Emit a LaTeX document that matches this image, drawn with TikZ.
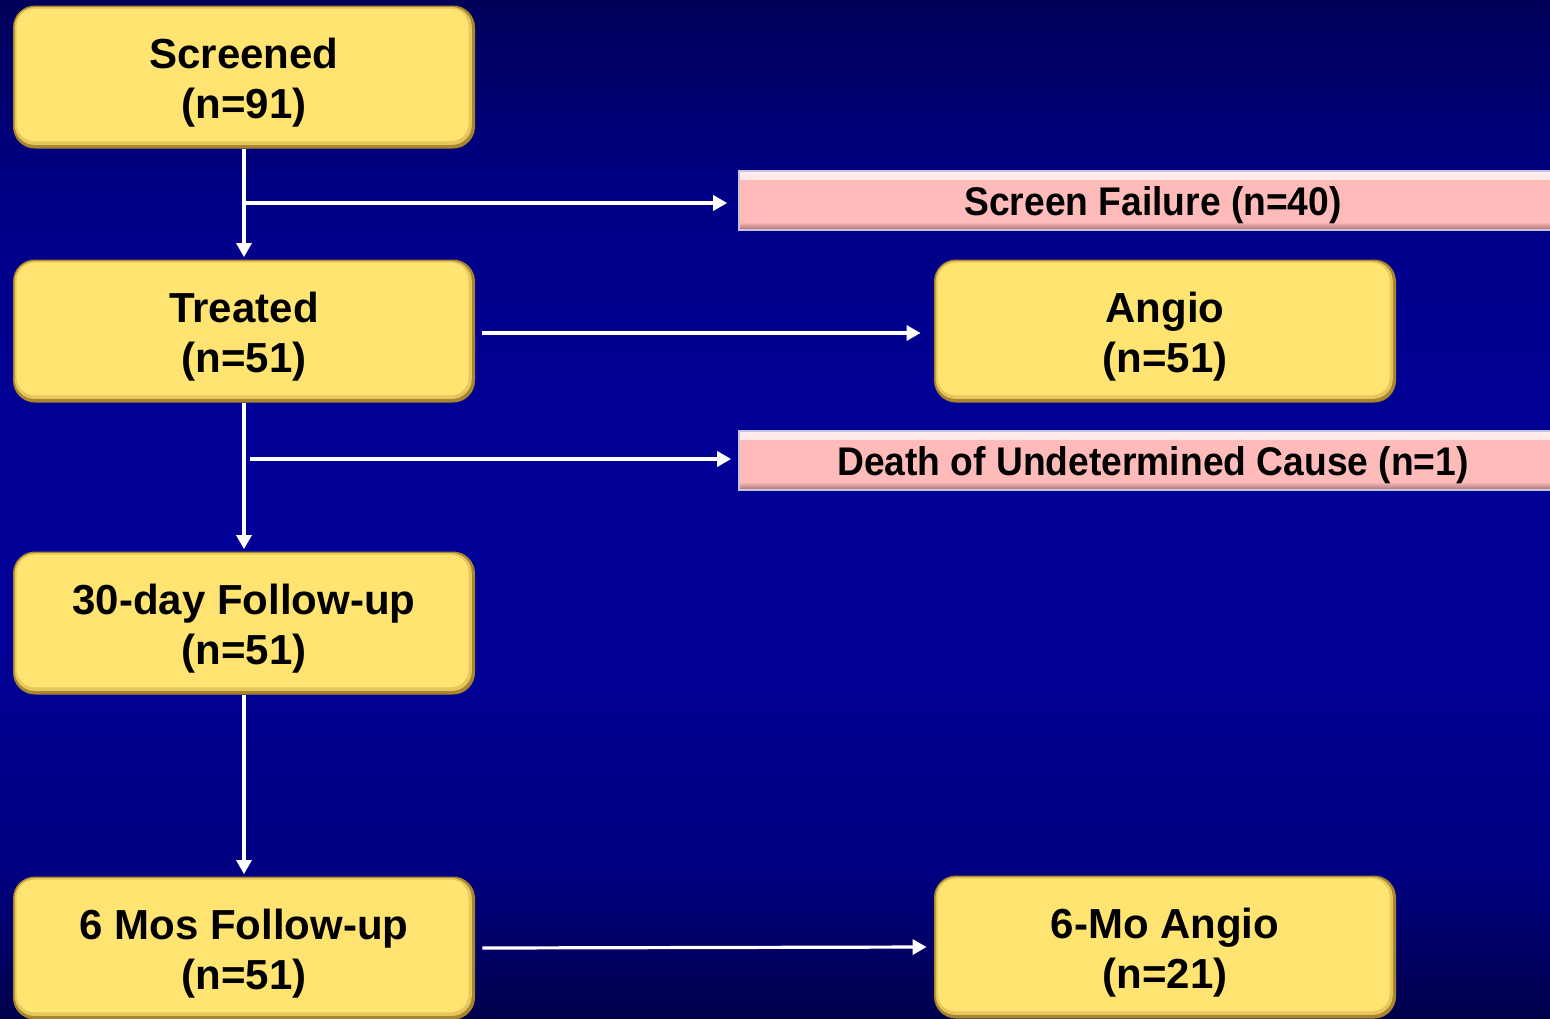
\documentclass[tikz,border=0pt]{standalone}
\usepackage{fontspec}
\setmainfont{Liberation Sans}
\newfontfamily\barfont[FakeStretch=0.93]{Liberation Sans}
\usetikzlibrary{arrows.meta}

\definecolor{bgtop}{HTML}{00005A}
\definecolor{bgupper}{HTML}{000088}
\definecolor{bgmid}{HTML}{000096}
\definecolor{bglower}{HTML}{000080}
\definecolor{bgbot}{HTML}{00004C}
\definecolor{boxyellow}{HTML}{FFE472}
\definecolor{boxmid}{HTML}{E6C75C}
\definecolor{boxedge}{HTML}{A8852E}
\definecolor{barpink}{HTML}{FFBABA}
\definecolor{bardark}{HTML}{A87070}
\definecolor{barline}{HTML}{C4C4DC}

% slide background: dark at top and bottom, brighter blue in the middle
\pgfdeclareverticalshading{slidebg}{100bp}{
  color(0bp)=(bgbot); color(25bp)=(bgbot); color(32bp)=(bglower);
  color(43bp)=(bgmid); color(53bp)=(bgmid); color(65bp)=(bgupper);
  color(75bp)=(bgtop); color(100bp)=(bgtop)}

\newcommand\boxlines[2]{\rule{0pt}{21pt}#1\\#2}

\tikzset{
  flowbox/.style={
    rounded corners=11pt, minimum width=231pt, minimum height=71.5pt,
    inner sep=0pt, align=center, fill=boxedge,
    font=\fontsize{21}{25}\selectfont\bfseries,
    path picture={
      \fill[boxmid, rounded corners=10pt]
        ([shift={(0.8pt,-0.8pt)}]path picture bounding box.north west) rectangle
        ([shift={(-1.6pt,1.8pt)}]path picture bounding box.south east);
      \fill[boxyellow, rounded corners=9pt]
        ([shift={(1.8pt,-1.6pt)}]path picture bounding box.north west) rectangle
        ([shift={(-3.2pt,3.6pt)}]path picture bounding box.south east);
    }},
  barbox/.style={
    minimum width=414pt, minimum height=29.5pt, inner sep=0pt,
    fill=barpink, draw=barline, line width=0.8pt, text depth=0pt,
    font=\barfont\bfseries\fontsize{20}{24}\selectfont,
    path picture={
      \shade[top color=white!75!barpink, bottom color=barpink]
        (path picture bounding box.north west) rectangle
        ([yshift=-4pt]path picture bounding box.north east);
      \shade[top color=barpink, bottom color=bardark]
        ([yshift=4pt]path picture bounding box.south west) rectangle
        (path picture bounding box.south east);
    }},
  flow/.style={draw=white, line width=1.6pt,
    -{Triangle[length=7pt,width=7.5pt]}}
}

\begin{document}
\begin{tikzpicture}[x=0.5pt,y=-0.5pt]
  % background
  \shade[shading=slidebg] (0,0) rectangle (1550,1018);
  \useasboundingbox (0,0) rectangle (1550,1018);
  \clip (0,0) rectangle (1550,1018);

  % main column
  \node[flowbox] (screened) at (244,77)  {\boxlines{Screened}{(n=91)}};
  \node[flowbox] (treated)  at (244,331) {\boxlines{Treated}{(n=51)}};
  \node[flowbox] (fu30)     at (244,623) {\boxlines{30-day Follow-up}{(n=51)}};
  \node[flowbox] (fu6)      at (244,948) {\boxlines{6 Mos Follow-up}{(n=51)}};

  % right column
  \node[flowbox] (angio)  at (1165,331) {\boxlines{Angio}{(n=51)}};
  \node[flowbox] (angio6) at (1165,947) {\boxlines{6-Mo Angio}{(n=21)}};

  % exclusion bars
  \node[barbox] (fail)  at (1153,200.5) {Screen Failure (n=40)};
  \node[barbox] (death) at (1153,460.5) {Death of Undetermined Cause (n=1)};

  % connectors
  \draw[flow] (screened.south) -- ([yshift=1pt]treated.north);
  \draw[flow] (treated.south) -- ([yshift=1pt]fu30.north);
  \draw[flow] (fu30.south) -- ([yshift=1pt]fu6.north);

  \coordinate (b1) at (244,203);
  \draw[flow] (b1) -- ([xshift=-5.5pt]fail.west |- b1);
  \coordinate (b2) at (250,459);
  \draw[flow] (b2) -- ([xshift=-3.5pt]death.west |- b2);

  \draw[flow] ([xshift=3.5pt]treated.east |- 0,333) -- ([xshift=-6.5pt]angio.west |- 0,333);
  \draw[flow] ([xshift=3.5pt]fu6.east) -- ([xshift=-3.5pt]angio6.west);
\end{tikzpicture}
\end{document}
